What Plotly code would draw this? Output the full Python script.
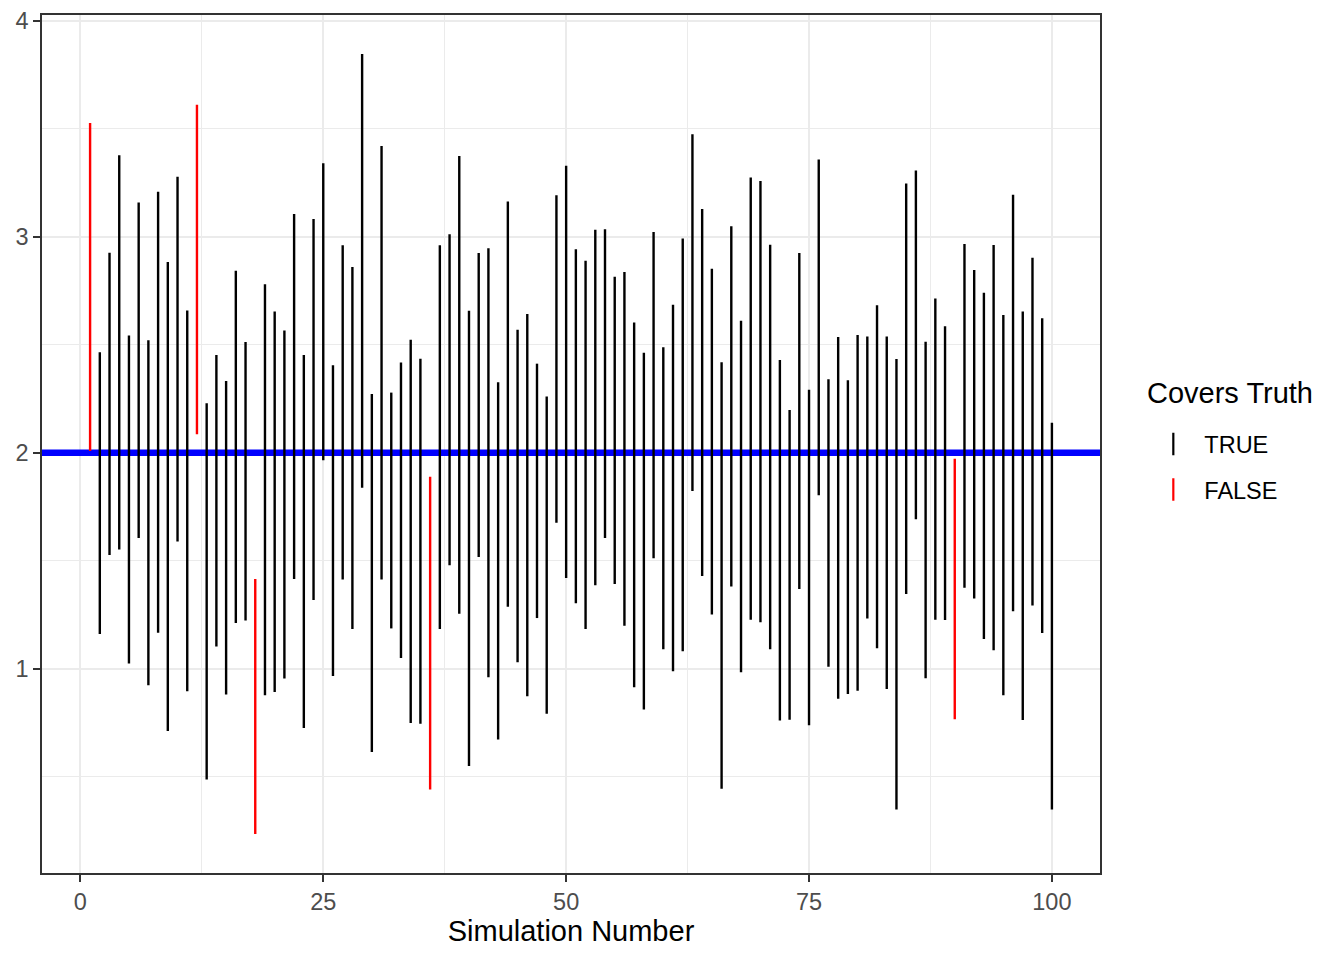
import plotly.graph_objects as go

# ---- data ----
sim = list(range(1, 101))

upper = [3.526, 2.465, 2.926, 3.377, 2.543, 3.158, 2.521, 3.208, 2.883, 3.277,
         2.658, 3.611, 2.229, 2.452, 2.332, 2.842, 2.512, 1.415, 2.780, 2.654,
         2.566, 3.105, 2.452, 3.082, 3.340, 2.405, 2.960, 2.860, 3.846, 2.271,
         3.420, 2.278, 2.417, 2.523, 2.435, 1.888, 2.960, 3.011, 3.374, 2.657,
         2.925, 2.946, 2.326, 3.163, 2.569, 2.642, 2.412, 2.260, 3.192, 3.328,
         2.942, 2.889, 3.032, 3.035, 2.815, 2.837, 2.603, 2.463, 3.022, 2.488,
         2.685, 2.992, 3.474, 3.128, 2.851, 2.418, 3.048, 2.611, 3.274, 3.258,
         2.963, 2.429, 2.197, 2.925, 2.291, 3.357, 2.340, 2.535, 2.335, 2.545,
         2.538, 2.683, 2.538, 2.434, 3.246, 3.306, 2.514, 2.714, 2.585, 1.972,
         2.966, 2.846, 2.740, 2.962, 2.637, 3.194, 2.654, 2.903, 2.622, 2.138]

lower = [2.008, 1.160, 1.526, 1.551, 1.023, 1.605, 0.923, 1.166, 0.711, 1.588,
         0.895, 2.085, 0.486, 1.102, 0.880, 1.211, 1.223, 0.234, 0.877, 0.892,
         0.954, 1.415, 0.725, 1.318, 1.965, 0.966, 1.412, 1.183, 1.837, 0.614,
         1.412, 1.186, 1.049, 0.748, 0.745, 0.440, 1.183, 1.478, 1.254, 0.549,
         1.517, 0.960, 0.672, 1.286, 1.029, 0.872, 1.234, 0.791, 1.675, 1.420,
         1.302, 1.183, 1.386, 1.605, 1.392, 1.198, 0.914, 0.811, 1.511, 1.089,
         0.988, 1.080, 1.822, 1.429, 1.251, 0.443, 1.380, 0.983, 1.226, 1.215,
         1.089, 0.760, 0.763, 1.368, 0.738, 1.803, 1.009, 0.860, 0.882, 0.897,
         1.232, 1.094, 0.906, 0.348, 1.345, 1.691, 0.955, 1.226, 1.225, 0.765,
         1.374, 1.325, 1.137, 1.085, 0.877, 1.265, 0.762, 1.292, 1.165, 0.348]

truth = 2.0
legend_title = "Covers Truth"
legend_labels = ["TRUE", "FALSE"]
legend_colors = ["black", "red"]
x_ticks = [0, 25, 50, 75, 100]
y_ticks = [1, 2, 3, 4]

covers = [lo <= truth <= hi for lo, hi in zip(lower, upper)]

# ggplot-style 5% expansion computed from data
xmin, xmax = min(sim), max(sim)
ymin, ymax = min(lower), max(upper)
xpad = 0.05 * (xmax - xmin)
ypad = 0.05 * (ymax - ymin)
xr = [xmin - xpad, xmax + xpad]

FONT = "Liberation Sans, Arial, Helvetica, sans-serif"
fig = go.Figure()

# reference line for the true value (drawn first, under the intervals)
fig.add_trace(go.Scatter(x=xr, y=[truth, truth], mode="lines",
                         line=dict(color="blue", width=6.5),
                         showlegend=False, hoverinfo="skip"))

for label, color, flag in zip(legend_labels, legend_colors, [True, False]):
    xs, ys = [], []
    for s, lo, hi, c in zip(sim, lower, upper, covers):
        if c == flag:
            xs += [s, s, None]
            ys += [lo, hi, None]
    fig.add_trace(go.Scatter(x=xs, y=ys, mode="lines",
                             line=dict(color=color, width=2.4),
                             showlegend=False, hoverinfo="skip",
                             legendgroup=label))
    # legend entry with vertical key glyph
    fig.add_trace(go.Scatter(x=[None], y=[None], mode="markers", name=label,
                             legendgroup=label,
                             marker=dict(symbol="line-ns", size=16,
                                         color=color,
                                         line=dict(color=color, width=2.2))))

# legend title placed as text above the legend entries
fig.add_annotation(text=legend_title, xref="paper", yref="paper",
                   x=1.0425, y=0.5594, xanchor="left", yanchor="middle",
                   showarrow=False, font=dict(size=29, color="black", family=FONT))

grid = "#EBEBEB"
fig.update_layout(
    width=1344, height=960,
    margin=dict(l=42, r=244, t=15, b=87, autoexpand=False),
    plot_bgcolor="white", paper_bgcolor="white",
    font=dict(family=FONT, color="black"),
    legend=dict(font=dict(size=23.5, color="black"),
                x=1.04, xanchor="left", y=0.473, yanchor="middle",
                itemwidth=52,
                tracegroupgap=12, bgcolor="rgba(0,0,0,0)"),
    xaxis=dict(range=xr, tickvals=x_ticks,
               ticktext=[str(v) for v in x_ticks],
               showgrid=True, gridcolor=grid, gridwidth=2.1,
               minor=dict(dtick=12.5, tick0=0, showgrid=True, gridcolor=grid,
                          gridwidth=1.1, ticks=""),
               zeroline=False, showline=True, linecolor="#333333", linewidth=1.5,
               mirror=True, ticks="outside", ticklen=7, tickwidth=1.5,
               tickcolor="#333333",
               tickfont=dict(size=23.5, color="#4D4D4D"),
               title=dict(text="Simulation Number", font=dict(size=29, color="black"),
                          standoff=6)),
    yaxis=dict(range=[ymin - ypad, ymax + ypad], tickvals=y_ticks,
               ticktext=[str(v) for v in y_ticks],
               showgrid=True, gridcolor=grid, gridwidth=2.1,
               minor=dict(dtick=0.5, tick0=0, showgrid=True, gridcolor=grid,
                          gridwidth=1.1, ticks=""),
               zeroline=False, showline=True, linecolor="#333333", linewidth=1.5,
               mirror=True, ticks="outside", ticklen=7, tickwidth=1.5,
               tickcolor="#333333",
               tickfont=dict(size=23.5, color="#4D4D4D")),
)

fig.write_html("out.html")
